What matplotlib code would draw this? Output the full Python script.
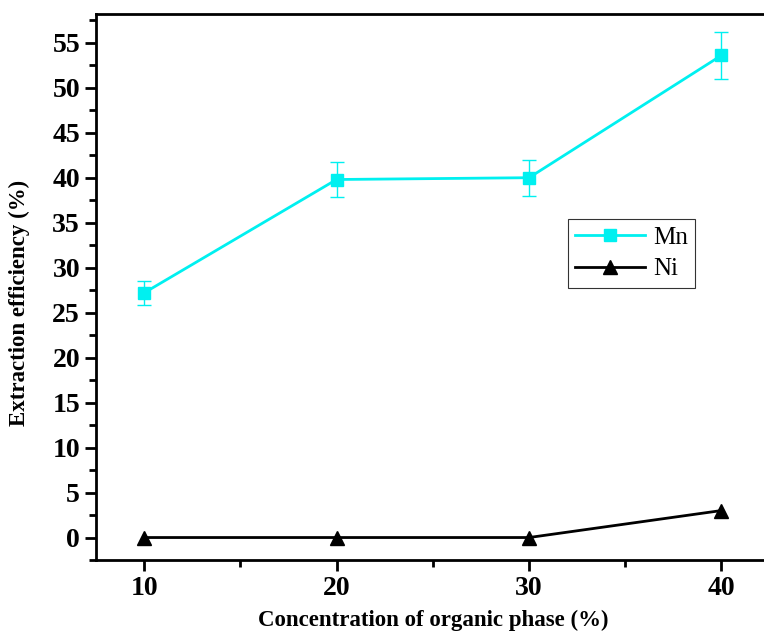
import numpy as np
import matplotlib
matplotlib.use('Agg')
import matplotlib.pyplot as plt
from matplotlib.ticker import MultipleLocator

# ── Data ──────────────────────────────────────────────────────────────────────
conc   = [10, 20, 30, 40]            # concentration of organic phase [%]
mn_eff = [27.2, 39.8, 40.0, 53.6]    # Mn extraction efficiency [%]
mn_err = [1.35, 2.0, 2.0, 2.65]      # Mn standard deviation [%]
ni_eff = [0.0, 0.0, 0.0, 3.0]        # Ni extraction efficiency [%]

plt.rcParams['font.family'] = ['Liberation Serif', 'DejaVu Serif']

fig = plt.figure(figsize=(7.64, 6.33), dpi=100)
ax = fig.add_axes([0.1257, 0.1153, 0.8816, 0.8626])

cyan = '#00f0f0'
ax.errorbar(conc, mn_eff, yerr=mn_err, fmt='none', ecolor=cyan,
            elinewidth=1.0, capsize=5, capthick=1.0, zorder=2)
ax.plot(conc, mn_eff, color=cyan, marker='s', markersize=9,
        linewidth=2.0, label='Mn', zorder=3)
ax.plot(conc, ni_eff, color='black', marker='^', markersize=10,
        linewidth=2.0, label='Ni', zorder=3)

ax.set_xlim(7.5, 42.5)
ax.set_ylim(-2.5, 58.2)
ax.xaxis.set_major_locator(MultipleLocator(10))
ax.xaxis.set_minor_locator(MultipleLocator(5))
ax.yaxis.set_major_locator(MultipleLocator(5))
ax.yaxis.set_minor_locator(MultipleLocator(2.5))

ax.tick_params(which='both', direction='out', width=2, top=False, right=False)
ax.tick_params(which='major', length=8, labelsize=20)
ax.tick_params(which='minor', length=5)
for lab in ax.get_xticklabels() + ax.get_yticklabels():
    lab.set_fontweight('bold')

for s in ax.spines.values():
    s.set_linewidth(2)

ax.set_xlabel('Concentration of organic phase (%)', fontsize=16.5,
              fontweight='bold', labelpad=6)
ax.set_ylabel('Extraction efficiency (%)', fontsize=16.5, fontweight='bold')
ax.yaxis.set_label_coords(-0.098, 0.47)

leg = ax.legend(loc='upper left', bbox_to_anchor=(0.7007, 0.6245),
                fontsize=18, frameon=True, fancybox=False, edgecolor='black',
                handlelength=2.8, borderpad=0.3, labelspacing=0.35,
                handletextpad=0.3, borderaxespad=0)
leg.get_frame().set_linewidth(0.8)

plt.savefig('out.png', dpi=100)
